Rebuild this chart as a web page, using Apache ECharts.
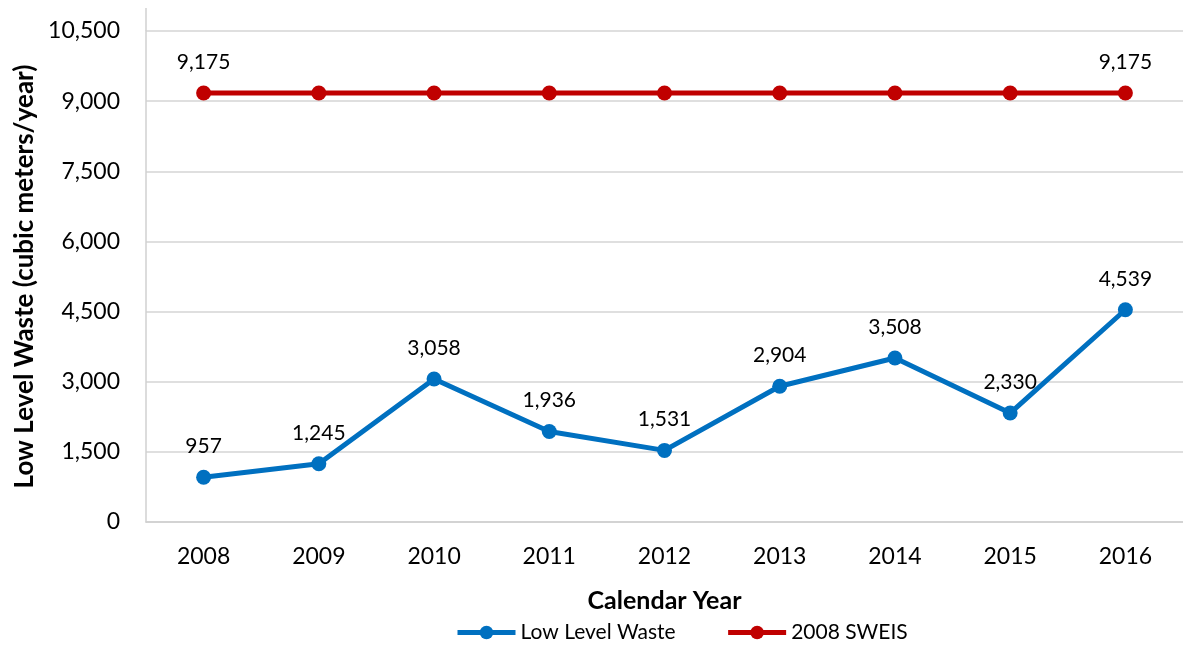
<!DOCTYPE html>
<html>
<head>
<meta charset="utf-8">
<title>Low Level Waste</title>
<script src="https://cdn.jsdelivr.net/npm/echarts@6/dist/echarts.min.js"></script>
<style>
    body { margin: 0; background: #fff; }
    #chart { width: 1183px; height: 648px; }
</style>
</head>
<body>
<div id="chart"></div>
<script>
    // data
    var years = ['2008', '2009', '2010', '2011', '2012', '2013', '2014', '2015', '2016'];
    var lowLevelWaste = [957, 1245, 3058, 1936, 1531, 2904, 3508, 2330, 4539];
    var sweis2008 = [9175, 9175, 9175, 9175, 9175, 9175, 9175, 9175, 9175];
    var sweisLabelled = [0, 8];  // only first and last point carry a label

    var FONT = 'Lato';
    var fmt = function (v) { return v.toLocaleString('en-US'); };

    var chart = echarts.init(document.getElementById('chart'));

    chart.setOption({
        animation: false,
        textStyle: { fontFamily: FONT, color: '#000' },
        grid: { left: 146, top: 31, width: 1043, height: 491, containLabel: false },
        legend: {
            bottom: 0,
            left: 450,
            itemWidth: 58,
            itemHeight: 17,
            itemGap: 50,
            lineStyle: { width: 5 },
            textStyle: { fontFamily: FONT, fontSize: 21, color: '#000' },
            data: ['Low Level Waste', '2008 SWEIS']
        },
        xAxis: {
            type: 'category',
            data: years,
            boundaryGap: true,
            name: 'Calendar Year',
            nameLocation: 'middle',
            nameGap: 66,
            nameTextStyle: { fontFamily: FONT, fontSize: 25, fontWeight: 'bold', color: '#000' },
            axisLine: { lineStyle: { color: '#d0d0d0', width: 1.5 } },
            axisTick: { show: false },
            axisLabel: { fontFamily: FONT, fontSize: 23, color: '#000', margin: 23 }
        },
        yAxis: {
            type: 'value',
            min: 0,
            max: 10500,
            interval: 1500,
            name: 'Low Level Waste (cubic meters/year)',
            nameLocation: 'middle',
            nameGap: 104,
            nameTextStyle: { fontFamily: FONT, fontSize: 26, fontWeight: 'bold', color: '#000' },
            axisLine: { show: true, lineStyle: { color: '#d0d0d0', width: 1.5 } },
            axisTick: { show: false },
            splitLine: { lineStyle: { color: '#d4d4d4', width: 1.5 } },
            axisLabel: { fontFamily: FONT, fontSize: 23, color: '#000', margin: 26, formatter: fmt }
        },
        graphic: [{
            // axis line continues a little above the top gridline
            type: 'line',
            shape: { x1: 146, y1: 8, x2: 146, y2: 31 },
            style: { stroke: '#d0d0d0', lineWidth: 1.5 }
        }],
        series: [{
            name: 'Low Level Waste',
            type: 'line',
            data: lowLevelWaste,
            symbol: 'circle',
            symbolSize: 15,
            itemStyle: { color: '#0070C0' },
            lineStyle: { color: '#0070C0', width: 5 },
            label: {
                show: true,
                position: 'top',
                distance: 13,
                fontFamily: FONT,
                fontSize: 21,
                color: '#000',
                formatter: function (p) { return fmt(p.value); }
            },
            z: 3
        }, {
            name: '2008 SWEIS',
            type: 'line',
            data: sweis2008,
            symbol: 'circle',
            symbolSize: 15,
            itemStyle: { color: '#C00000' },
            lineStyle: { color: '#C00000', width: 5 },
            label: {
                show: true,
                position: 'top',
                distance: 13,
                fontFamily: FONT,
                fontSize: 21,
                color: '#000',
                formatter: function (p) {
                    return sweisLabelled.indexOf(p.dataIndex) >= 0 ? fmt(p.value) : '';
                }
            },
            z: 2
        }]
    });
</script>
</body>
</html>
